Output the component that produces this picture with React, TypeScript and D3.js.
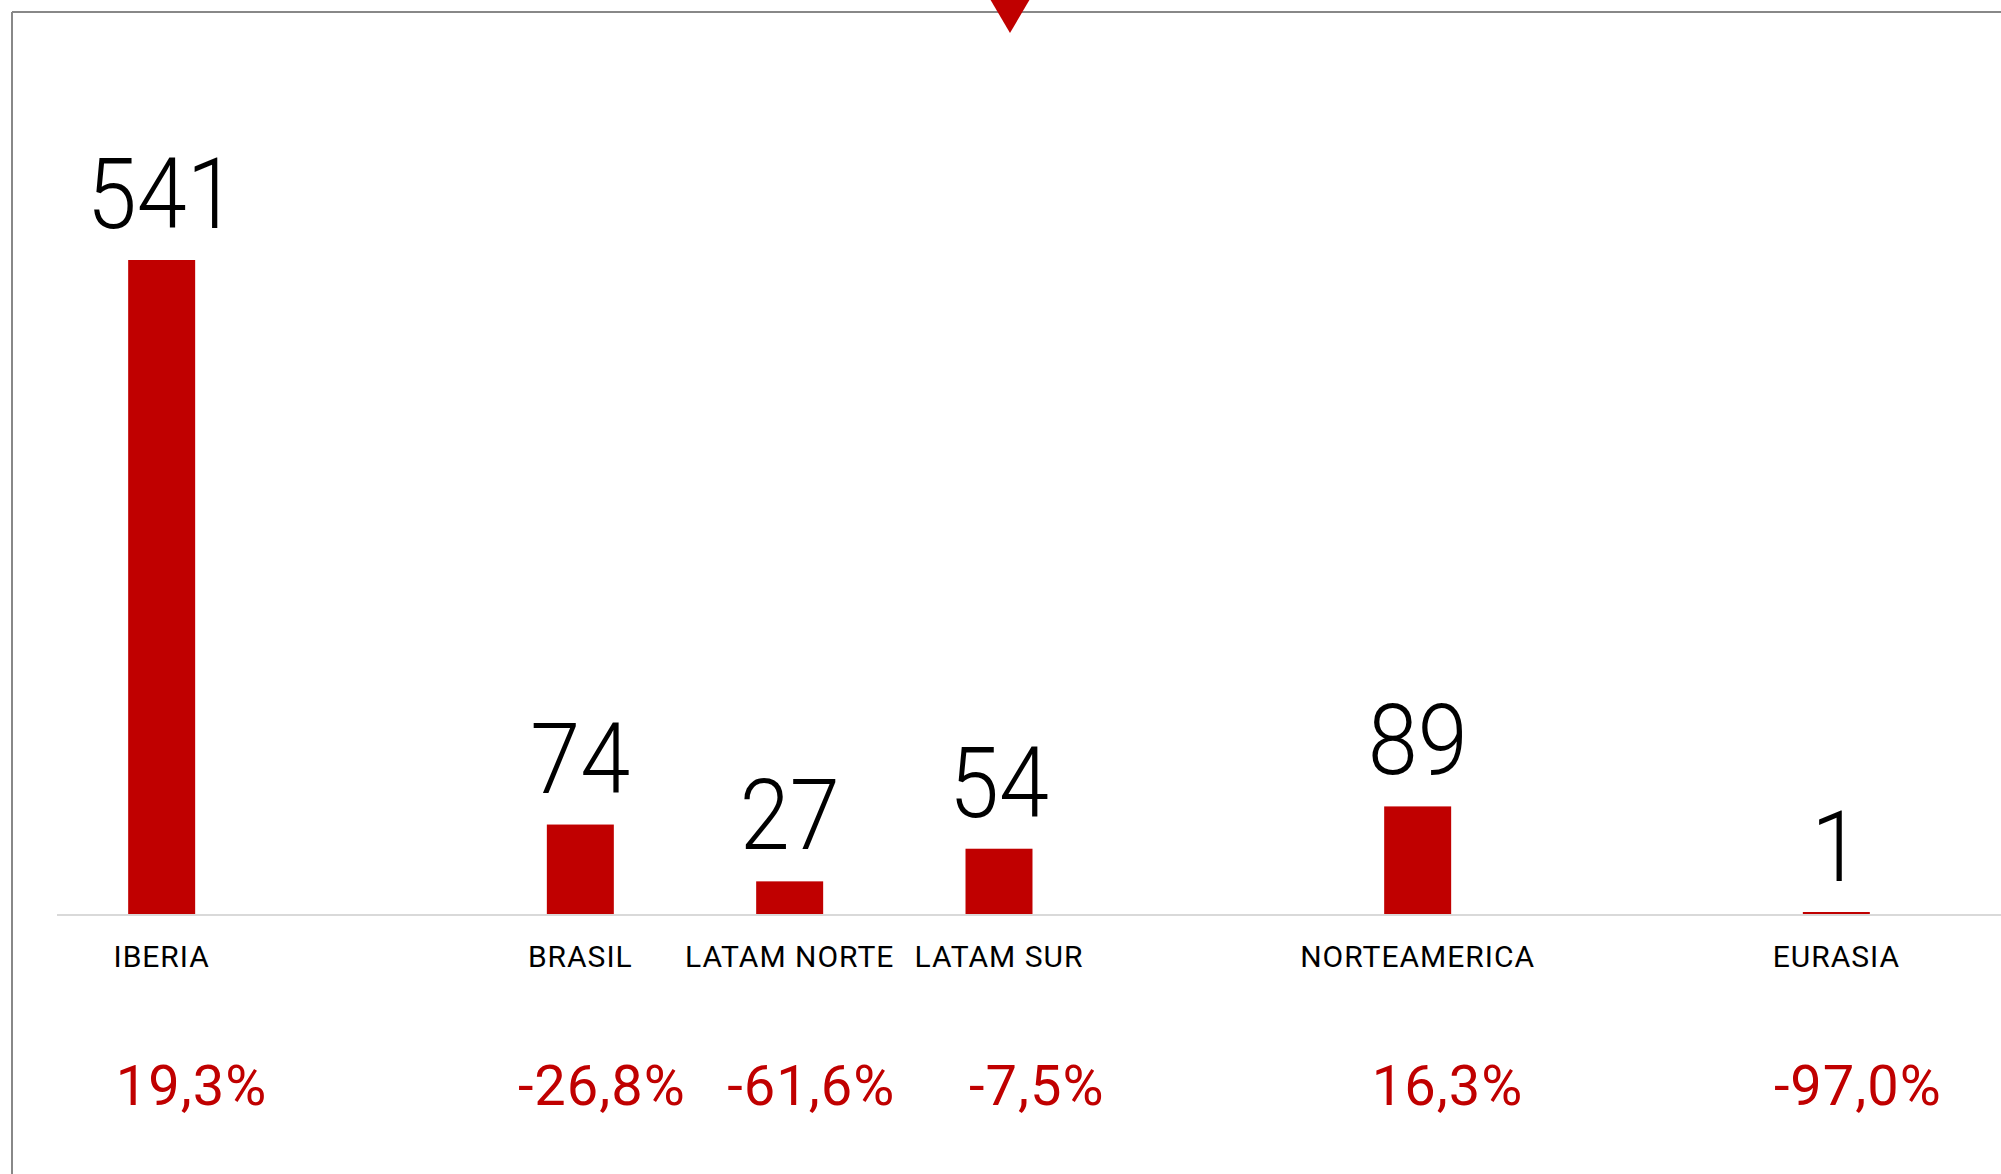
import React from "react";
import * as d3 from "d3";

const categories = ["IBERIA", "BRASIL", "LATAM NORTE", "LATAM SUR", "NORTEAMERICA", "EURASIA"];
const slotIndex = [0, 2, 3, 4, 6, 8];
const values = [541, 74, 27, 54, 89, 1];
const changeLabels = ["19,3%", "-26,8%", "-61,6%", "-7,5%", "16,3%", "-97,0%"];

const W = 2001;
const H = 1174;
const RED = "#C00000";
const FONT = "Roboto, 'DejaVu Sans', sans-serif";

export default function App() {
  React.useEffect(() => {
    document.body.style.margin = "0";
  }, []);

  const baseY = 914;
  const x = d3
    .scaleBand<number>()
    .domain(d3.range(9))
    .range([57, 1941])
    .paddingInner(0.68)
    .paddingOuter(0.34);
  const y = d3.scaleLinear().domain([0, d3.max(values) as number]).range([baseY, 260]);
  const bw = x.bandwidth();

  return (
    <svg width={W} height={H} style={{ display: "block", background: "#fff" }}>
      {/* frame */}
      <line x1={12} y1={12} x2={W} y2={12} stroke="#888" strokeWidth={2} />
      <line x1={12} y1={12} x2={12} y2={H} stroke="#888" strokeWidth={2} />
      <path d="M990,-1 L1030,-1 L1010,33 Z" fill={RED} />
      {/* baseline */}
      <line x1={57} y1={baseY + 1} x2={W} y2={baseY + 1} stroke="#d9d9d9" strokeWidth={2} />
      {categories.map((c, i) => {
        const x0 = x(slotIndex[i]) as number;
        const cx = x0 + bw / 2;
        const top = y(values[i]);
        const h = Math.max(baseY - top, 2);
        return (
          <g key={c}>
            <rect x={x0} y={baseY - h} width={bw} height={h} fill={RED} />
            <text
              transform={`translate(${cx},${top - 32}) scale(0.92,1)`}
              textAnchor="middle"
              fontFamily={FONT}
              fontWeight={300}
              fontSize={98}
              fill="#000"
            >
              {values[i]}
            </text>
            <text
              x={cx}
              y={967}
              textAnchor="middle"
              fontFamily={FONT}
              fontSize={30}
              letterSpacing={1}
              fill="#000"
            >
              {c}
            </text>
            <text
              x={x0 + bw + 72}
              y={1105}
              textAnchor="end"
              fontFamily={FONT}
              fontSize={56}
              letterSpacing={1}
              fill={RED}
            >
              {changeLabels[i]}
            </text>
          </g>
        );
      })}
    </svg>
  );
}
